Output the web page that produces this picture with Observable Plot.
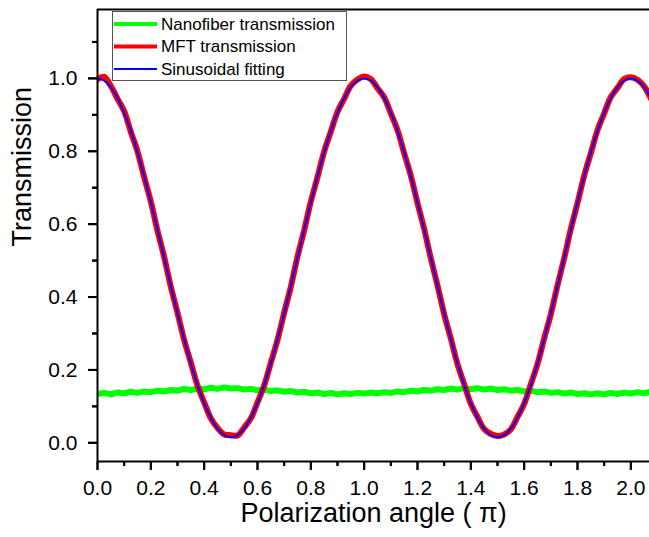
<!DOCTYPE html>
<html>
<head>
<meta charset="utf-8">
<script src="https://cdn.jsdelivr.net/npm/d3@7"></script>
<script src="https://cdn.jsdelivr.net/npm/@observablehq/plot@0.6"></script>
<style>
  html, body { margin: 0; padding: 0; background: #fff; }
  #chart { width: 649px; height: 537px; }
  svg { font-family: "Liberation Sans", Arial, sans-serif; }
</style>
</head>
<body>
<div id="chart"></div>
<script>
// Polarization angle (units of pi)
const angles = [
  0.000, 0.025, 0.050, 0.075, 0.100, 0.125, 0.150, 0.175, 0.200, 0.225,
  0.250, 0.275, 0.300, 0.325, 0.350, 0.375, 0.400, 0.425, 0.450, 0.475,
  0.500, 0.525, 0.550, 0.575, 0.600, 0.625, 0.650, 0.675, 0.700, 0.725,
  0.750, 0.775, 0.800, 0.825, 0.850, 0.875, 0.900, 0.925, 0.950, 0.975,
  1.000, 1.025, 1.050, 1.075, 1.100, 1.125, 1.150, 1.175, 1.200, 1.225,
  1.250, 1.275, 1.300, 1.325, 1.350, 1.375, 1.400, 1.425, 1.450, 1.475,
  1.500, 1.525, 1.550, 1.575, 1.600, 1.625, 1.650, 1.675, 1.700, 1.725,
  1.750, 1.775, 1.800, 1.825, 1.850, 1.875, 1.900, 1.925, 1.950, 1.975,
  2.000, 2.025, 2.050, 2.075
];

// Nanofiber transmission (green)
const nanofiber = [
  0.134, 0.137, 0.133, 0.138, 0.136, 0.140, 0.137, 0.141, 0.139, 0.143,
  0.141, 0.145, 0.143, 0.148, 0.145, 0.149, 0.147, 0.151, 0.148, 0.152,
  0.149, 0.150, 0.146, 0.148, 0.144, 0.146, 0.142, 0.144, 0.140, 0.142,
  0.138, 0.140, 0.136, 0.138, 0.134, 0.137, 0.133, 0.136, 0.134, 0.137,
  0.135, 0.138, 0.136, 0.139, 0.137, 0.141, 0.139, 0.143, 0.141, 0.145,
  0.143, 0.147, 0.145, 0.149, 0.146, 0.150, 0.147, 0.150, 0.146, 0.149,
  0.145, 0.147, 0.143, 0.145, 0.141, 0.143, 0.139, 0.141, 0.137, 0.139,
  0.135, 0.138, 0.134, 0.136, 0.133, 0.136, 0.133, 0.137, 0.134, 0.138,
  0.135, 0.139, 0.136, 0.140
];

// MFT transmission (red, measured)
const mft = [
  0.998, 1.004, 0.979, 0.944, 0.910, 0.853, 0.800, 0.729, 0.662, 0.582,
  0.510, 0.428, 0.357, 0.282, 0.220, 0.157, 0.111, 0.067, 0.041, 0.023,
  0.021, 0.020, 0.042, 0.067, 0.111, 0.157, 0.220, 0.282, 0.357, 0.428,
  0.511, 0.583, 0.662, 0.729, 0.799, 0.854, 0.908, 0.944, 0.980, 0.997,
  1.005, 0.998, 0.973, 0.948, 0.904, 0.858, 0.795, 0.733, 0.658, 0.587,
  0.506, 0.432, 0.353, 0.286, 0.216, 0.161, 0.107, 0.071, 0.038, 0.024,
  0.019, 0.023, 0.037, 0.071, 0.107, 0.161, 0.216, 0.286, 0.353, 0.432,
  0.506, 0.587, 0.658, 0.733, 0.795, 0.858, 0.904, 0.949, 0.974, 0.998,
  1.003, 0.996, 0.978, 0.945
];

// Sinusoidal fitting (blue)
const fit = [
  1.000, 0.994, 0.976, 0.946, 0.906, 0.856, 0.797, 0.731, 0.660, 0.585,
  0.508, 0.430, 0.355, 0.284, 0.218, 0.159, 0.109, 0.069, 0.039, 0.021,
  0.015, 0.021, 0.039, 0.069, 0.109, 0.159, 0.218, 0.284, 0.355, 0.430,
  0.508, 0.585, 0.660, 0.731, 0.797, 0.856, 0.906, 0.946, 0.976, 0.994,
  1.000, 0.994, 0.976, 0.946, 0.906, 0.856, 0.797, 0.731, 0.660, 0.585,
  0.508, 0.430, 0.355, 0.284, 0.218, 0.159, 0.109, 0.069, 0.039, 0.021,
  0.015, 0.021, 0.039, 0.069, 0.109, 0.159, 0.218, 0.284, 0.355, 0.430,
  0.508, 0.585, 0.660, 0.731, 0.797, 0.856, 0.906, 0.946, 0.976, 0.994,
  1.000, 0.994, 0.976, 0.946
];

const xMajor = [0, 0.2, 0.4, 0.6, 0.8, 1.0, 1.2, 1.4, 1.6, 1.8, 2.0];
const xMinor = [0.1, 0.3, 0.5, 0.7, 0.9, 1.1, 1.3, 1.5, 1.7, 1.9];
const yMajor = [0, 0.2, 0.4, 0.6, 0.8, 1.0];
const yMinor = [0.1, 0.3, 0.5, 0.7, 0.9, 1.1];

const seriesNames = ["Nanofiber transmission", "MFT transmission", "Sinusoidal fitting"];
const seriesColors = ["#00ff00", "#ff0000", "#0000ff"];
const seriesWidths = [6, 6, 2];

const xLabel = "Polarization angle ( \u03c0)";
const yLabel = "Transmission";

const xDomain = [0, 2.07];
const yDomain = [-0.0513, 1.189];

const rows = angles.map((a, i) => ({a, g: nanofiber[i], r: mft[i], b: fit[i]}));

const chart = Plot.plot({
  width: 649,
  height: 537,
  marginLeft: 97,
  marginRight: 0,
  marginTop: 9,
  marginBottom: 76,
  style: {fontFamily: '"Liberation Sans", Arial, sans-serif', color: "#000", background: "#fff"},
  x: {domain: xDomain, nice: false},
  y: {domain: yDomain, nice: false},
  marks: [
    Plot.lineY(rows, {x: "a", y: "g", stroke: seriesColors[0], strokeWidth: seriesWidths[0], clip: true}),
    Plot.lineY(rows, {x: "a", y: "r", stroke: seriesColors[1], strokeWidth: seriesWidths[1], curve: "catmull-rom", clip: true}),
    Plot.lineY(rows, {x: "a", y: "b", stroke: seriesColors[2], strokeWidth: seriesWidths[2], curve: "catmull-rom", clip: true}),
    Plot.ruleX([xDomain[0]], {stroke: "#000", strokeWidth: 2}),
    Plot.ruleY([yDomain[0], yDomain[1]], {stroke: "#000", strokeWidth: 2}),
    Plot.axisX(xMajor, {tickSize: 9, tickPadding: 10, stroke: "#000", strokeWidth: 2, fontSize: 21, tickFormat: d3.format(".1f"), label: null}),
    Plot.axisX(xMinor, {tickSize: 5, stroke: "#000", strokeWidth: 2, text: null, label: null}),
    Plot.axisY(yMajor, {tickSize: 9, tickPadding: 11, stroke: "#000", strokeWidth: 2, fontSize: 21, tickFormat: d3.format(".1f"), label: null}),
    Plot.axisY(yMinor, {tickSize: 5, stroke: "#000", strokeWidth: 2, text: null, label: null}),
    Plot.text([xLabel], {frameAnchor: "bottom", dy: 60, fontSize: 27, fill: "#000"}),
    Plot.text([yLabel], {frameAnchor: "left", rotate: -90, dx: -75, dy: 11, fontSize: 27, fill: "#000"})
  ]
});

document.getElementById("chart").appendChild(chart);

const svg = d3.select(chart);

// Reinforce axis tick marks using Plot's own scales
const sx = chart.scale("x"), sy = chart.scale("y");
const x0 = sx.apply(xDomain[0]), y0 = sy.apply(yDomain[0]);
const tk = svg.append("g").attr("stroke", "#000").attr("stroke-width", 2);
xMajor.forEach(v => tk.append("line").attr("x1", sx.apply(v) + 0.5).attr("x2", sx.apply(v) + 0.5).attr("y1", y0).attr("y2", y0 + 9));
xMinor.forEach(v => tk.append("line").attr("x1", sx.apply(v) + 0.5).attr("x2", sx.apply(v) + 0.5).attr("y1", y0).attr("y2", y0 + 5));
yMajor.forEach(v => tk.append("line").attr("y1", sy.apply(v) + 0.5).attr("y2", sy.apply(v) + 0.5).attr("x1", x0).attr("x2", x0 - 9));
yMinor.forEach(v => tk.append("line").attr("y1", sy.apply(v) + 0.5).attr("y2", sy.apply(v) + 0.5).attr("x1", x0).attr("x2", x0 - 5));

// Legend box inside the plot area
const lg = svg.append("g").attr("class", "legend").attr("text-anchor", "start");
lg.append("rect")
  .attr("x", 112.5).attr("y", 11.5).attr("width", 234).attr("height", 69)
  .attr("fill", "#fff").attr("stroke", "#555").attr("stroke-width", 1);
const rowY = [24, 46.5, 69];
seriesNames.forEach((name, i) => {
  lg.append("line")
    .attr("x1", 114).attr("x2", 157).attr("y1", rowY[i]).attr("y2", rowY[i])
    .attr("stroke", seriesColors[i]).attr("stroke-width", i < 2 ? 4 : 2);
  lg.append("text")
    .attr("x", 161).attr("y", rowY[i]).attr("dy", "0.35em")
    .attr("text-anchor", "start")
    .attr("font-size", 17).attr("fill", "#000")
    .text(name);
});
</script>
</body>
</html>
